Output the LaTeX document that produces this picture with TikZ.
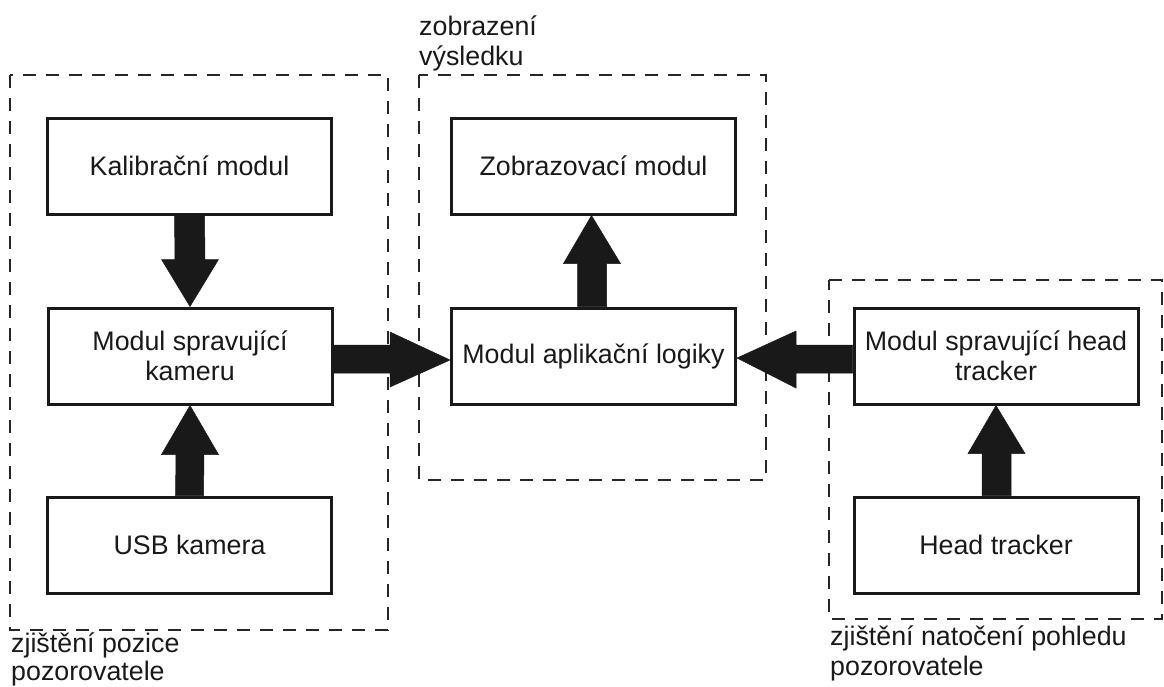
\documentclass[tikz,border=0pt]{standalone}
\usepackage{fontspec}
\setmainfont{Liberation Sans}
\usetikzlibrary{calc}
\begin{document}
\begin{tikzpicture}[x=1pt,y=-1pt,
  box/.style={draw=black!90, line width=3pt, minimum width=284pt, minimum height=96pt,
    inner sep=0pt, align=center, font=\fontsize{26.8}{30}\selectfont, text=black!90},
  group/.style={draw=black!85, line width=2pt, dash pattern=on 13pt off 10pt},
  lbl/.style={inner sep=0pt, align=left, anchor=north west, font=\fontsize{26.8}{30}\selectfont, text=black!90},
  arr/.style={fill=black!90, draw=black!90, line width=0.5pt, line join=miter}]
\useasboundingbox (0,0) rectangle (1164,686);

% group frames
\draw[group] (10,75) rectangle (388,630);
\draw[group] (419,75) rectangle (766,480);
\draw[group] (829,280) -- (1162,280) -- (1162,619) -- (829,619) -- cycle;

% modules
\node[box] (kal) at (189.5,166) {Kalibrační modul};
\node[box] (cam) at (190,356) {Modul spravující\\kameru};
\node[box] (usb) at (189.5,545) {USB kamera};
\node[box] (zob) at (593.5,166) {Zobrazovací modul};
\node[box] (app) at (593.5,356) {Modul aplikační logiky};
\node[box] (hmod) at (996,356) {Modul spravující head\\tracker};
\node[box] (ht) at (996,545) {Head tracker};

% group labels
\node[lbl] (l1) at (419,16) {zobrazení\\výsledku};
\node[lbl, font=\fontsize{26.8}{28}\selectfont] (l2) at (11,633) {zjištění pozice\\pozorovatele};
\node[lbl] (l3) at (830,626) {zjištění natočení pohledu\\pozorovatele};

% block arrows
% kal -> cam (down)
\filldraw[arr] ($(kal.south)+(-15,0)$) -- ($(kal.south)+(15,0)$) -- ($(cam.north)+(15,-47)$)
  -- ($(cam.north)+(28.5,-47)$) -- (cam.north) -- ($(cam.north)+(-28.5,-47)$)
  -- ($(cam.north)+(-15,-47)$) -- cycle;
% usb -> cam (up)
\filldraw[arr] ($(usb.north)+(-14,0)$) -- ($(usb.north)+(14,0)$) -- ($(cam.south)+(14,49)$)
  -- ($(cam.south)+(28.5,49)$) -- (cam.south) -- ($(cam.south)+(-28.5,49)$)
  -- ($(cam.south)+(-14,49)$) -- cycle;
% app -> zob (up)
\filldraw[arr] ($(app.north)+(-16,0)$) -- ($(app.north)+(13,0)$) -- ($(zob.south)+(13,48)$)
  -- ($(zob.south)+(27,48)$) -- ($(zob.south)+(-2,0)$) -- ($(zob.south)+(-30,48)$)
  -- ($(zob.south)+(-16,48)$) -- cycle;
% ht -> hmod (up)
\filldraw[arr] ($(ht.north)+(-14,0)$) -- ($(ht.north)+(15,0)$) -- ($(hmod.south)+(15,48)$)
  -- ($(hmod.south)+(29,48)$) -- (hmod.south) -- ($(hmod.south)+(-28,48)$)
  -- ($(hmod.south)+(-14,48)$) -- cycle;
% cam -> app (right)
\filldraw[arr] ($(cam.east)+(0,-11)$) -- ($(app.west)+(-60,-11)$) -- ($(app.west)+(-60,-24)$)
  -- ($(app.west)+(0,4)$) -- ($(app.west)+(-60,31)$) -- ($(app.west)+(-60,17)$)
  -- ($(cam.east)+(0,17)$) -- cycle;
% hmod -> app (left)
\filldraw[arr] ($(hmod.west)+(0,-11)$) -- ($(app.east)+(59,-11)$) -- ($(app.east)+(59,-25)$)
  -- ($(app.east)+(0,2)$) -- ($(app.east)+(59,32)$) -- ($(app.east)+(59,17)$)
  -- ($(hmod.west)+(0,17)$) -- cycle;
\end{tikzpicture}
\end{document}
